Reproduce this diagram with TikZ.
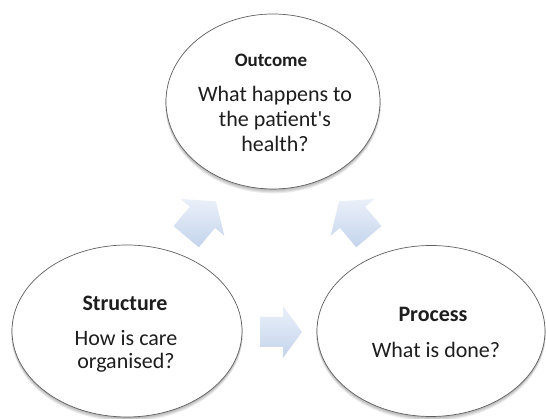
\documentclass[tikz,border=0pt]{standalone}
\usepackage{fontspec}
\setmainfont{Carlito}
\definecolor{arrowtop}{RGB}{234,240,249}
\definecolor{arrowbottom}{RGB}{196,212,236}
\definecolor{rimgray}{RGB}{95,95,95}
\definecolor{inkgray}{RGB}{30,30,30}
\begin{document}
\begin{tikzpicture}[x=1pt,y=1pt,
  bubble/.style={draw=rimgray, line width=0.7pt, fill=white},
  headtext/.style={font=\fontsize{22}{26}\selectfont\bfseries, text=inkgray, anchor=base, inner sep=0pt},
  smallhead/.style={headtext, font=\fontsize{19}{23}\selectfont\bfseries},
  bodytext/.style={font=\fontsize{22}{25}\selectfont, text=inkgray, anchor=base, inner sep=0pt},
  arrowfill/.style={top color=arrowtop, bottom color=arrowbottom},
  blockarrow/.pic={
    \path[arrowfill] (-21,15) -- (2,15) -- (2,26) -- (21,0) -- (2,-26) -- (2,-15) -- (-21,-15) -- cycle;
  }
]
\useasboundingbox (0,0) rectangle (546,419);

\coordinate (outcome) at (273,317.5);
\coordinate (structure) at (127,88);
\coordinate (process) at (431,88);

% soft shadows under the three bubbles
\foreach \c/\rx/\ry in {outcome/107/87.5, structure/115/86, process/114/85.5}{
  \foreach \k in {1,...,4}{
    \fill[black, opacity=0.08] ([yshift=-0.8*\k]\c) ellipse [x radius=\rx+0.2*\k, y radius=\ry+0.3*\k];
  }
}

% the three bubbles
\draw[bubble] (outcome) ellipse [x radius=107, y radius=87.5];
\draw[bubble] (structure) ellipse [x radius=115, y radius=86];
\draw[bubble] (process) ellipse [x radius=114, y radius=85.5];

% texts
\node[smallhead] (outcome-h) at (271,352) {Outcome};
\node[bodytext] (outcome-1) at (275,317) {What happens to};
\node[bodytext] (outcome-2) at (275,292) {the patient\textquotesingle s};
\node[bodytext] (outcome-3) at (275,267) {health?};

\node[headtext] (structure-h) at (125,108) {Structure};
\node[bodytext] (structure-1) at (126,73) {How is care};
\node[bodytext] (structure-2) at (126,50) {organised?};

\node[headtext] (process-h) at (433,97) {Process};
\node[bodytext] (process-1) at (436,61) {What is done?};

% block arrows between the bubbles
\coordinate (s-o) at (201,200);
\coordinate (p-o) at (354,200);
\coordinate (s-p) at (281,87);
\pic[rotate=50, scale=1.1] at (s-o) {blockarrow};
\pic[rotate=130, scale=1.1] at (p-o) {blockarrow};
\pic at (s-p) {blockarrow};
\end{tikzpicture}
\end{document}
